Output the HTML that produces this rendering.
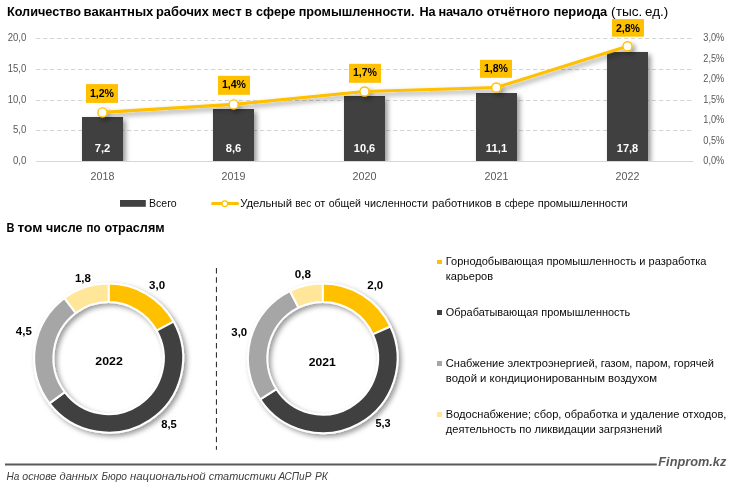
<!DOCTYPE html>
<html><head><meta charset="utf-8"><title>chart</title>
<style>
html,body{margin:0;padding:0;background:#fff;}
body{width:731px;height:488px;overflow:hidden;font-family:"Liberation Sans",sans-serif;}
svg{display:block;will-change:transform;}
text{font-family:"Liberation Sans",sans-serif;}
.ax{font-size:10px;fill:#595959;}
.cat{font-size:10.7px;fill:#595959;}
.bl{font-size:10.7px;font-weight:bold;fill:#fff;}
.pl{font-size:11.4px;font-weight:bold;fill:#000;}
.dl{font-size:11.5px;font-weight:bold;fill:#000;}
.lg{font-size:11px;fill:#0a0a0a;}
.lg2{font-size:11px;fill:#0a0a0a;}
</style></head><body>
<svg width="731" height="488" viewBox="0 0 731 488">
<defs>
<filter id="sh" x="-20%" y="-20%" width="150%" height="140%"><feDropShadow dx="2.8" dy="2.8" stdDeviation="2.4" flood-color="#000" flood-opacity="0.4"/></filter>
<filter id="sh2" x="-5%" y="-20%" width="110%" height="160%"><feDropShadow dx="2.8" dy="2.8" stdDeviation="2.5" flood-color="#000" flood-opacity="0.4"/></filter>
<filter id="dsh" x="-20%" y="-20%" width="140%" height="140%"><feDropShadow dx="2.6" dy="2.6" stdDeviation="2.6" flood-color="#000" flood-opacity="0.4"/></filter>
<clipPath id="pc"><rect x="0" y="0" width="731" height="161"/></clipPath>
</defs>
<rect width="731" height="488" fill="#fff"/>

<text x="6.9" y="15.7" textLength="74.0" lengthAdjust="spacingAndGlyphs" font-size="12.6px" font-weight="bold" fill="#000">Количество</text>
<text x="83.6" y="15.7" textLength="69.8" lengthAdjust="spacingAndGlyphs" font-size="12.6px" font-weight="bold" fill="#000">вакантных</text>
<text x="156.0" y="15.7" textLength="52.9" lengthAdjust="spacingAndGlyphs" font-size="12.6px" font-weight="bold" fill="#000">рабочих</text>
<text x="212.1" y="15.7" textLength="29.5" lengthAdjust="spacingAndGlyphs" font-size="12.6px" font-weight="bold" fill="#000">мест</text>
<text x="245.1" y="15.7" textLength="7.2" lengthAdjust="spacingAndGlyphs" font-size="12.6px" font-weight="bold" fill="#000">в</text>
<text x="256.1" y="15.7" textLength="39.5" lengthAdjust="spacingAndGlyphs" font-size="12.6px" font-weight="bold" fill="#000">сфере</text>
<text x="298.7" y="15.7" textLength="115.9" lengthAdjust="spacingAndGlyphs" font-size="12.6px" font-weight="bold" fill="#000">промышленности.</text>
<text x="419.4" y="15.7" textLength="16.2" lengthAdjust="spacingAndGlyphs" font-size="12.6px" font-weight="bold" fill="#000">На</text>
<text x="438.4" y="15.7" textLength="44.7" lengthAdjust="spacingAndGlyphs" font-size="12.6px" font-weight="bold" fill="#000">начало</text>
<text x="486.7" y="15.7" textLength="63.2" lengthAdjust="spacingAndGlyphs" font-size="12.6px" font-weight="bold" fill="#000">отчётного</text>
<text x="553.4" y="15.7" textLength="53.9" lengthAdjust="spacingAndGlyphs" font-size="12.6px" font-weight="bold" fill="#000">периода</text>
<text x="611.1" y="15.7" textLength="31.2" lengthAdjust="spacingAndGlyphs" font-size="12.6px" fill="#000">(тыс.</text>
<text x="645.1" y="15.7" textLength="23.2" lengthAdjust="spacingAndGlyphs" font-size="12.6px" fill="#000">ед.)</text>
<line x1="36.0" x2="693" y1="38.5" y2="38.5" stroke="#d4d4d4" stroke-width="1" stroke-dasharray="4.3 2.7"/>
<text x="7.699999999999999" y="41.10" class="ax" textLength="18.6" lengthAdjust="spacingAndGlyphs" >20,0</text>
<line x1="36.0" x2="693" y1="69.5" y2="69.5" stroke="#d4d4d4" stroke-width="1" stroke-dasharray="4.3 2.7"/>
<text x="7.699999999999999" y="71.85" class="ax" textLength="18.6" lengthAdjust="spacingAndGlyphs" >15,0</text>
<line x1="36.0" x2="693" y1="100.5" y2="100.5" stroke="#d4d4d4" stroke-width="1" stroke-dasharray="4.3 2.7"/>
<text x="7.699999999999999" y="102.60" class="ax" textLength="18.6" lengthAdjust="spacingAndGlyphs" >10,0</text>
<line x1="36.0" x2="693" y1="130.5" y2="130.5" stroke="#d4d4d4" stroke-width="1" stroke-dasharray="4.3 2.7"/>
<text x="12.9" y="133.35" class="ax" textLength="13.4" lengthAdjust="spacingAndGlyphs" >5,0</text>
<line x1="36.0" x2="693.3" y1="161.5" y2="161.5" stroke="#d6d6d6" stroke-width="1"/>
<text x="12.9" y="164.10" class="ax" textLength="13.4" lengthAdjust="spacingAndGlyphs" >0,0</text>
<text x="703.3" y="41.10" class="ax" textLength="21" lengthAdjust="spacingAndGlyphs" >3,0%</text>
<text x="703.3" y="61.60" class="ax" textLength="21" lengthAdjust="spacingAndGlyphs" >2,5%</text>
<text x="703.3" y="82.10" class="ax" textLength="21" lengthAdjust="spacingAndGlyphs" >2,0%</text>
<text x="703.3" y="102.60" class="ax" textLength="21" lengthAdjust="spacingAndGlyphs" >1,5%</text>
<text x="703.3" y="123.10" class="ax" textLength="21" lengthAdjust="spacingAndGlyphs" >1,0%</text>
<text x="703.3" y="143.60" class="ax" textLength="21" lengthAdjust="spacingAndGlyphs" >0,5%</text>
<text x="703.3" y="164.10" class="ax" textLength="21" lengthAdjust="spacingAndGlyphs" >0,0%</text>
<g clip-path="url(#pc)"><g filter="url(#sh)">
<rect x="82" y="117" width="41" height="44" fill="#404040"/>
<rect x="213" y="109" width="41" height="52" fill="#404040"/>
<rect x="344" y="96" width="41" height="65" fill="#404040"/>
<rect x="476" y="93" width="41" height="68" fill="#404040"/>
<rect x="607" y="52" width="41" height="109" fill="#404040"/>
</g></g>
<text x="94.70" y="151.8" class="bl" textLength="15.6" lengthAdjust="spacingAndGlyphs" >7,2</text>
<text x="90.60" y="179.7" class="cat" textLength="23.8" lengthAdjust="spacingAndGlyphs" >2018</text>
<text x="225.70" y="151.8" class="bl" textLength="15.6" lengthAdjust="spacingAndGlyphs" >8,6</text>
<text x="221.60" y="179.7" class="cat" textLength="23.8" lengthAdjust="spacingAndGlyphs" >2019</text>
<text x="353.80" y="151.8" class="bl" textLength="21.4" lengthAdjust="spacingAndGlyphs" >10,6</text>
<text x="352.60" y="179.7" class="cat" textLength="23.8" lengthAdjust="spacingAndGlyphs" >2020</text>
<text x="485.80" y="151.8" class="bl" textLength="21.4" lengthAdjust="spacingAndGlyphs" >11,1</text>
<text x="484.60" y="179.7" class="cat" textLength="23.8" lengthAdjust="spacingAndGlyphs" >2021</text>
<text x="616.80" y="151.8" class="bl" textLength="21.4" lengthAdjust="spacingAndGlyphs" >17,8</text>
<text x="615.60" y="179.7" class="cat" textLength="23.8" lengthAdjust="spacingAndGlyphs" >2022</text>
<g filter="url(#sh2)">
<polyline fill="none" stroke="#FFC000" stroke-width="3.1" stroke-linejoin="round" points="102.50,112.40 233.60,104.40 364.50,91.50 496.30,87.50 627.50,46.30"/>
<circle cx="102.50" cy="112.40" r="4.55" fill="#fff" stroke="#FFC000" stroke-width="1.35"/>
<circle cx="233.60" cy="104.40" r="4.55" fill="#fff" stroke="#FFC000" stroke-width="1.35"/>
<circle cx="364.50" cy="91.50" r="4.55" fill="#fff" stroke="#FFC000" stroke-width="1.35"/>
<circle cx="496.30" cy="87.50" r="4.55" fill="#fff" stroke="#FFC000" stroke-width="1.35"/>
<circle cx="627.50" cy="46.30" r="4.55" fill="#fff" stroke="#FFC000" stroke-width="1.35"/>
</g>
<rect x="86" y="84.1" width="32" height="18.8" fill="#FFC000"/>
<text x="89.90" y="96.50" class="pl" textLength="24.1" lengthAdjust="spacingAndGlyphs" >1,2%</text>
<rect x="218" y="75.8" width="32" height="19" fill="#FFC000"/>
<text x="221.90" y="88.20" class="pl" textLength="24.1" lengthAdjust="spacingAndGlyphs" >1,4%</text>
<rect x="349" y="63.8" width="32" height="19" fill="#FFC000"/>
<text x="352.90" y="76.20" class="pl" textLength="24.1" lengthAdjust="spacingAndGlyphs" >1,7%</text>
<rect x="480" y="59.8" width="32" height="18" fill="#FFC000"/>
<text x="483.90" y="72.20" class="pl" textLength="24.1" lengthAdjust="spacingAndGlyphs" >1,8%</text>
<rect x="612" y="19.1" width="32" height="17.6" fill="#FFC000"/>
<text x="615.90" y="31.50" class="pl" textLength="24.1" lengthAdjust="spacingAndGlyphs" >2,8%</text>
<rect x="120" y="200.0" width="25.8" height="6.8" fill="#404040"/>
<text x="149.0" y="206.8" class="lg" textLength="27.6" lengthAdjust="spacingAndGlyphs" >Всего</text>
<line x1="212.5" x2="237.6" y1="203.5" y2="203.5" stroke="#FFC000" stroke-width="3" stroke-linecap="round"/>
<circle cx="224.8" cy="203.7" r="2.8" fill="#fff" stroke="#FFC000" stroke-width="1.1"/>
<text x="240.2" y="206.8" textLength="51.8" lengthAdjust="spacingAndGlyphs" class="lg">Удельный</text>
<text x="295.3" y="206.8" textLength="15.9" lengthAdjust="spacingAndGlyphs" class="lg">вес</text>
<text x="314.5" y="206.8" textLength="10.9" lengthAdjust="spacingAndGlyphs" class="lg">от</text>
<text x="328.7" y="206.8" textLength="32.3" lengthAdjust="spacingAndGlyphs" class="lg">общей</text>
<text x="364.3" y="206.8" textLength="63.7" lengthAdjust="spacingAndGlyphs" class="lg">численности</text>
<text x="432.0" y="206.8" textLength="60.0" lengthAdjust="spacingAndGlyphs" class="lg">работников</text>
<text x="495.5" y="206.8" textLength="5.7" lengthAdjust="spacingAndGlyphs" class="lg">в</text>
<text x="504.7" y="206.8" textLength="29.5" lengthAdjust="spacingAndGlyphs" class="lg">сфере</text>
<text x="537.7" y="206.8" textLength="89.9" lengthAdjust="spacingAndGlyphs" class="lg">промышленности</text>
<text x="6.4" y="232.2" textLength="8.0" lengthAdjust="spacingAndGlyphs" font-size="12.6px" font-weight="bold" fill="#000">В</text>
<text x="17.5" y="232.2" textLength="25.0" lengthAdjust="spacingAndGlyphs" font-size="12.6px" font-weight="bold" fill="#000">том</text>
<text x="45.9" y="232.2" textLength="36.6" lengthAdjust="spacingAndGlyphs" font-size="12.6px" font-weight="bold" fill="#000">числе</text>
<text x="86.6" y="232.2" textLength="14.0" lengthAdjust="spacingAndGlyphs" font-size="12.6px" font-weight="bold" fill="#000">по</text>
<text x="104.5" y="232.2" textLength="60.1" lengthAdjust="spacingAndGlyphs" font-size="12.6px" font-weight="bold" fill="#000">отраслям</text>
<g filter="url(#dsh)" stroke="#fff" stroke-width="2" stroke-linejoin="round">
<path d="M108.60,283.60 A74.5,74.5 0 0 1 173.55,321.61 L156.73,330.67 A55.2,56.0 0 0 0 108.60,302.10 Z" fill="#FFC000"/>
<path d="M173.55,321.61 A74.5,74.5 0 0 1 49.43,403.37 L64.76,392.13 A55.2,56.0 0 0 0 156.73,330.67 Z" fill="#404040"/>
<path d="M49.43,403.37 A74.5,74.5 0 0 1 64.39,298.14 L75.84,313.03 A55.2,56.0 0 0 0 64.76,392.13 Z" fill="#A6A6A6"/>
<path d="M64.39,298.14 A74.5,74.5 0 0 1 108.60,283.60 L108.60,302.10 A55.2,56.0 0 0 0 75.84,313.03 Z" fill="#FFE699"/>
</g>
<g filter="url(#dsh)" stroke="#fff" stroke-width="2" stroke-linejoin="round">
<path d="M322.70,283.50 A74.8,74.8 0 0 1 390.42,326.53 L372.85,334.34 A55.4,56.4 0 0 0 322.70,301.90 Z" fill="#FFC000"/>
<path d="M390.42,326.53 A74.8,74.8 0 0 1 260.14,399.30 L276.37,389.22 A55.4,56.4 0 0 0 372.85,334.34 Z" fill="#404040"/>
<path d="M260.14,399.30 A74.8,74.8 0 0 1 289.97,291.04 L298.46,307.58 A55.4,56.4 0 0 0 276.37,389.22 Z" fill="#A6A6A6"/>
<path d="M289.97,291.04 A74.8,74.8 0 0 1 322.70,283.50 L322.70,301.90 A55.4,56.4 0 0 0 298.46,307.58 Z" fill="#FFE699"/>
</g>
<text x="149.1" y="288.8" class="dl" textLength="16.0" lengthAdjust="spacingAndGlyphs" >3,0</text>
<text x="161.3" y="427.8" class="dl" textLength="15.5" lengthAdjust="spacingAndGlyphs" >8,5</text>
<text x="15.8" y="335.0" class="dl" textLength="16.0" lengthAdjust="spacingAndGlyphs" >4,5</text>
<text x="74.9" y="282.0" class="dl" textLength="16.0" lengthAdjust="spacingAndGlyphs" >1,8</text>
<text x="95.3" y="365.0" class="dl" textLength="27.5" lengthAdjust="spacingAndGlyphs" >2022</text>
<text x="367.3" y="288.8" class="dl" textLength="15.9" lengthAdjust="spacingAndGlyphs" >2,0</text>
<text x="375.4" y="426.8" class="dl" textLength="15.2" lengthAdjust="spacingAndGlyphs" >5,3</text>
<text x="231.3" y="335.9" class="dl" textLength="15.9" lengthAdjust="spacingAndGlyphs" >3,0</text>
<text x="294.7" y="278.0" class="dl" textLength="16.2" lengthAdjust="spacingAndGlyphs" >0,8</text>
<text x="308.7" y="365.9" class="dl" textLength="27.0" lengthAdjust="spacingAndGlyphs" >2021</text>
<line x1="216.45" x2="216.45" y1="268" y2="449.8" stroke="#333" stroke-width="1.1" stroke-dasharray="5.5 3.87"/>
<rect x="437" y="260" width="5" height="4" fill="#FFC000"/>
<text x="445.8" y="264.8" class="lg2" textLength="260.7" lengthAdjust="spacingAndGlyphs" >Горнодобывающая промышленность и разработка</text>
<text x="445.8" y="279.8" class="lg2" textLength="47.2" lengthAdjust="spacingAndGlyphs" >карьеров</text>
<rect x="437" y="310" width="5" height="5" fill="#404040"/>
<text x="445.8" y="315.9" class="lg2" textLength="184.4" lengthAdjust="spacingAndGlyphs" >Обрабатывающая промышленность</text>
<rect x="437" y="361" width="5" height="5" fill="#A6A6A6"/>
<text x="445.8" y="366.6" class="lg2" textLength="268.1" lengthAdjust="spacingAndGlyphs" >Снабжение электроэнергией, газом, паром, горячей</text>
<text x="445.8" y="381.7" class="lg2" textLength="211.2" lengthAdjust="spacingAndGlyphs" >водой и кондиционированным воздухом</text>
<rect x="437" y="412" width="5" height="5" fill="#FFE699"/>
<text x="445.8" y="418.0" class="lg2" textLength="280.6" lengthAdjust="spacingAndGlyphs" >Водоснабжение; сбор, обработка и удаление отходов,</text>
<text x="445.8" y="433.0" class="lg2" textLength="216.3" lengthAdjust="spacingAndGlyphs" >деятельность по ликвидации загрязнений</text>
<line x1="5" x2="656.8" y1="464.5" y2="464.5" stroke="#595959" stroke-width="2"/>
<text x="658.3" y="465.5" textLength="68" lengthAdjust="spacingAndGlyphs" font-size="13.1px" font-weight="bold" font-style="italic" fill="#595959">Finprom.kz</text>
<text x="6.4" y="480.0" textLength="12.9" lengthAdjust="spacingAndGlyphs" font-size="11px" font-style="italic" fill="#404040">На</text>
<text x="22.3" y="480.0" textLength="34.2" lengthAdjust="spacingAndGlyphs" font-size="11px" font-style="italic" fill="#404040">основе</text>
<text x="59.5" y="480.0" textLength="38.3" lengthAdjust="spacingAndGlyphs" font-size="11px" font-style="italic" fill="#404040">данных</text>
<text x="101.5" y="480.0" textLength="25.5" lengthAdjust="spacingAndGlyphs" font-size="11px" font-style="italic" fill="#404040">Бюро</text>
<text x="130.0" y="480.0" textLength="75.7" lengthAdjust="spacingAndGlyphs" font-size="11px" font-style="italic" fill="#404040">национальной</text>
<text x="208.7" y="480.0" textLength="67.5" lengthAdjust="spacingAndGlyphs" font-size="11px" font-style="italic" fill="#404040">статистики</text>
<text x="278.4" y="480.0" textLength="33.0" lengthAdjust="spacingAndGlyphs" font-size="11px" font-style="italic" fill="#404040">АСПиР</text>
<text x="314.9" y="480.0" textLength="12.9" lengthAdjust="spacingAndGlyphs" font-size="11px" font-style="italic" fill="#404040">РК</text>
</svg></body></html>
